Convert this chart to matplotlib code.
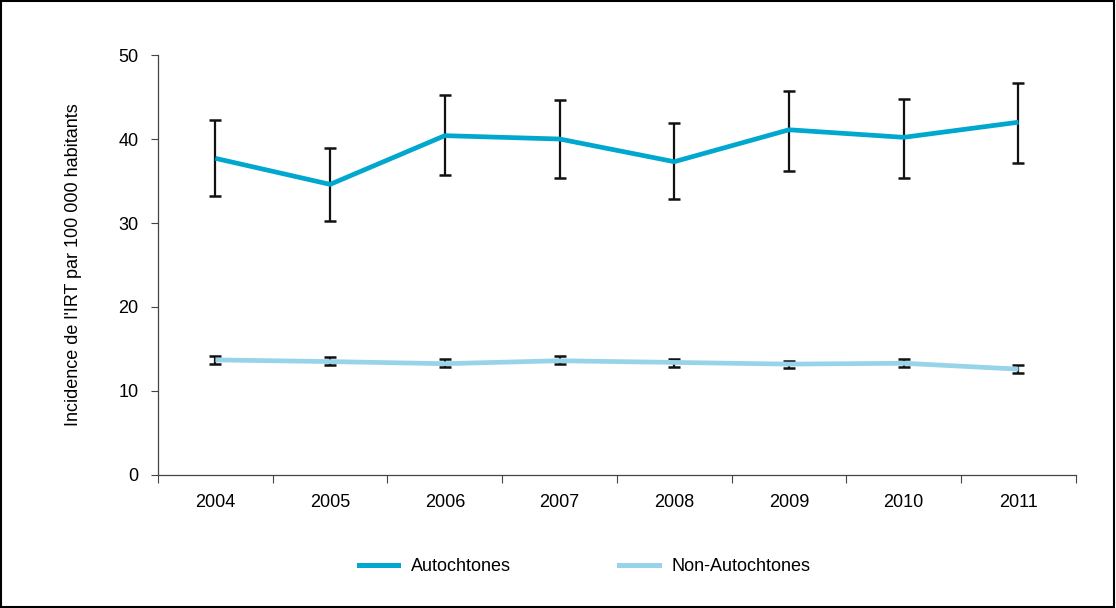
import matplotlib
matplotlib.use("Agg")
import matplotlib.pyplot as plt
from matplotlib.patches import Rectangle
from matplotlib.lines import Line2D
import numpy as np

plt.rcParams['font.family'] = ['Liberation Sans', 'DejaVu Sans']

years = ['2004', '2005', '2006', '2007', '2008', '2009', '2010', '2011']

auto_vals = [37.7, 34.6, 40.4, 40.0, 37.3, 41.1, 40.2, 42.0]
auto_low = [33.25, 30.2, 35.7, 35.3, 32.8, 36.2, 35.4, 37.2]
auto_high = [42.3, 38.9, 45.2, 44.7, 41.9, 45.7, 44.8, 46.7]

non_vals = [13.7, 13.5, 13.25, 13.6, 13.4, 13.2, 13.3, 12.6]
non_low = [13.25, 13.1, 12.8, 13.2, 12.9, 12.7, 12.8, 12.1]
non_high = [14.2, 14.0, 13.8, 14.2, 13.8, 13.6, 13.8, 13.1]

series_names = ['Autochtones', 'Non-Autochtones']
col_auto = '#00A7CE'
col_non = '#97D4EA'

fig = plt.figure(figsize=(11.16, 6.08), dpi=100)
ax = fig.add_axes([0.1416, 0.2188, 0.8224, 0.6907])

x = np.arange(len(years))

def draw_series(vals, low, high, color):
    vals = np.array(vals)
    yerr = [vals - np.array(low), np.array(high) - vals]
    ax.errorbar(x, vals, yerr=yerr, fmt='none', ecolor='#111111',
                elinewidth=1.6, capsize=4.5, capthick=1.8, zorder=2)
    ax.plot(x, vals, color=color, lw=3.4, solid_capstyle='butt', zorder=3)

draw_series(auto_vals, auto_low, auto_high, col_auto)
draw_series(non_vals, non_low, non_high, col_non)

ax.set_xlim(-0.5, len(years) - 0.5)
ax.set_ylim(0, 50)
ax.set_yticks([0, 10, 20, 30, 40, 50])

# tick marks between categories, labels at category centres
ax.set_xticks(np.arange(-0.5, len(years)), labels=[])
ax.set_xticks(x, labels=years, minor=True)
ax.tick_params(axis='x', which='major', direction='out', length=6, width=0.8, color='#444444')
ax.tick_params(axis='x', which='minor', length=0, labelsize=13, pad=14)
ax.tick_params(axis='y', direction='out', length=5, width=0.8, color='#444444',
               labelsize=13, pad=9)

for side in ('top', 'right'):
    ax.spines[side].set_visible(False)
for side in ('left', 'bottom'):
    ax.spines[side].set_color('#444444')
    ax.spines[side].set_linewidth(0.9)

ax.set_ylabel("Incidence de l'IRT par 100 000 habitants", fontsize=13, labelpad=26)

handles = [Line2D([], [], color=col_auto, lw=3.6),
           Line2D([], [], color=col_non, lw=3.6)]
fig.legend(handles, series_names, loc='center', bbox_to_anchor=(0.524, 0.068),
           ncol=2, frameon=False, fontsize=13, handlelength=2.2,
           columnspacing=6.0, handletextpad=0.7)

fig.add_artist(Rectangle((0.001, 0.002), 0.997, 0.996, transform=fig.transFigure,
                         fill=False, edgecolor='black', lw=1.5))

fig.savefig('out.png', dpi=100)
